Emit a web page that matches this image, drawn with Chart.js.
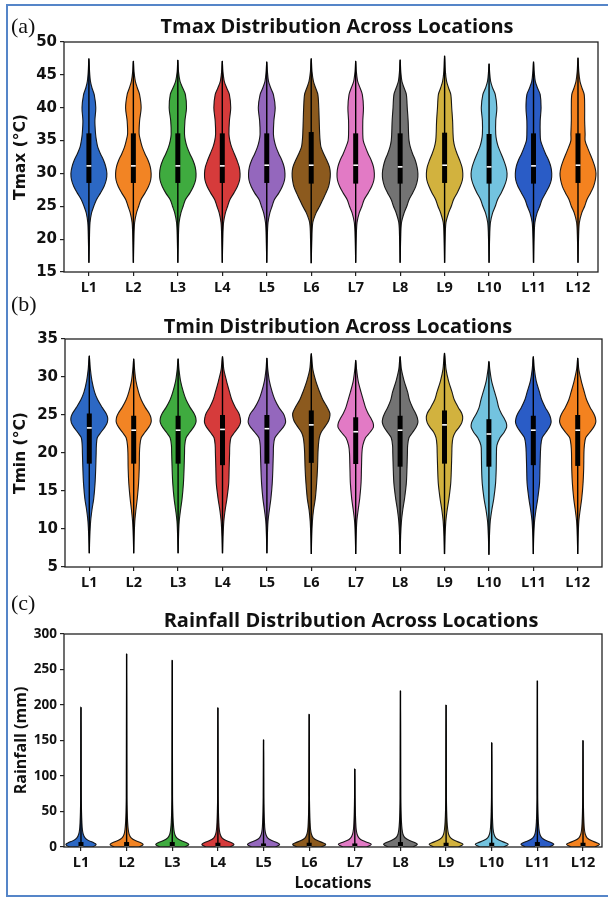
<!DOCTYPE html>
<html>
<head>
<meta charset="utf-8">
<script src="https://cdn.jsdelivr.net/npm/chart.js@4.4.1/dist/chart.umd.min.js"></script>
<style>
  html, body { margin: 0; padding: 0; background: #fff; }
  #page { position: relative; width: 608px; height: 898px; overflow: hidden; background: #fff; }
  #frame { position: absolute; left: 6px; top: 4px; width: 604px; height: 893px; box-sizing: border-box; border: 2px solid #5585c8; }
  canvas { position: absolute; left: 0; }
  .tag { position: absolute; left: 11px; font: 22px/22px "Liberation Serif", serif; color: #111; }
  .title { position: absolute; width: 440px; text-align: center; font: 700 20px/20px "Open Sans", sans-serif; color: #111; white-space: nowrap; }
</style>
</head>
<body>
<div id="page">
  <div id="frame"></div>
  <canvas id="tmax" width="608" height="300" style="top:0"></canvas>
  <canvas id="tmin" width="608" height="300" style="top:300px"></canvas>
  <canvas id="rain" width="608" height="298" style="top:600px"></canvas>
  <div class="tag" style="top:15px">(a)</div>
  <div class="tag" style="top:293px">(b)</div>
  <div class="tag" style="top:592px">(c)</div>
  <div class="title" style="left:117px;top:16px">Tmax Distribution Across Locations</div>
  <div class="title" style="left:118px;top:316px">Tmin Distribution Across Locations</div>
  <div class="title" style="left:131px;top:610px">Rainfall Distribution Across Locations</div>
</div>
<script>
const LOCATIONS = ['L1', 'L2', 'L3', 'L4', 'L5', 'L6', 'L7', 'L8', 'L9', 'L10', 'L11', 'L12'];
const VIOLIN_COLORS = ['#2c68c4', '#f28424', '#3fab3f', '#d63b3b', '#9467bd', '#8c5a1e',
  '#e27ac5', '#737373', '#d2b23e', '#73c3df', '#2a5cc6', '#f4821f'];

// Tmax (°C)
const TMAX_MIN = [16.4, 16.4, 16.4, 16.4, 16.4, 16.35, 16.4, 16.4, 16.4, 16.4, 16.4, 16.4];
const TMAX_Q1 = [28.55, 28.55, 28.55, 28.55, 28.55, 28.45, 28.45, 28.45, 28.55, 28.45, 28.45, 28.55];
const TMAX_MEDIAN = [31.15, 31.15, 31.15, 31.15, 31.25, 31.25, 31.25, 31.0, 31.25, 31.0, 31.15, 31.25];
const TMAX_Q3 = [36.1, 36.1, 36.1, 36.1, 36.1, 36.3, 36.1, 36.1, 36.2, 36.0, 36.1, 36.1];
const TMAX_MAX = [47.5, 47.1, 47.25, 47.1, 47.0, 47.5, 47.1, 47.3, 47.9, 46.7, 47.0, 47.6];
const TMAX_LEVELS = [20, 22.5, 24, 25, 26, 27, 28, 29, 30, 31, 32, 33, 34, 35, 36, 38, 40, 42, 43, 44, 45.5];
// half-width of each violin at TMAX_LEVELS (1 = distance between locations)
const TMAX_WIDTH = [
  [.012, .025, .06, .11, .17, .26, .34, .39, .405, .38, .33, .26, .2, .17, .15, .135, .155, .12, .07, .035, .015],
  [.012, .028, .07, .12, .17, .26, .34, .39, .40, .38, .33, .26, .2, .16, .13, .14, .175, .14, .09, .045, .015],
  [.012, .028, .07, .12, .17, .27, .35, .40, .41, .39, .34, .27, .21, .17, .15, .16, .195, .17, .11, .05, .015],
  [.012, .028, .07, .12, .17, .26, .34, .39, .40, .38, .33, .27, .21, .17, .15, .16, .19, .16, .10, .045, .015],
  [.012, .028, .07, .12, .17, .27, .35, .40, .41, .39, .34, .27, .21, .17, .15, .16, .19, .15, .09, .04, .015],
  [.015, .035, .11, .19, .26, .33, .39, .42, .43, .41, .35, .28, .22, .2, .19, .18, .17, .15, .1, .05, .018],
  [.012, .03, .08, .14, .19, .28, .36, .41, .42, .40, .35, .28, .22, .17, .16, .16, .175, .15, .1, .045, .015],
  [.012, .03, .09, .15, .2, .28, .35, .39, .40, .38, .34, .28, .23, .2, .19, .18, .16, .14, .09, .04, .015],
  [.012, .03, .09, .15, .2, .28, .35, .40, .41, .39, .34, .28, .23, .2, .19, .18, .16, .14, .09, .045, .018],
  [.012, .03, .08, .14, .19, .27, .34, .39, .405, .38, .33, .27, .21, .17, .15, .15, .175, .14, .08, .035, .012],
  [.012, .03, .08, .14, .19, .27, .35, .40, .41, .39, .34, .27, .21, .16, .15, .15, .17, .15, .09, .04, .015],
  [.012, .03, .085, .15, .2, .28, .35, .39, .405, .38, .33, .27, .21, .16, .16, .15, .15, .14, .09, .045, .018]
];

// Tmin (°C)
const TMIN_MIN = [6.8, 6.8, 6.8, 6.8, 6.8, 6.7, 6.7, 6.7, 6.7, 6.6, 6.7, 6.7];
const TMIN_Q1 = [18.6, 18.6, 18.6, 18.4, 18.6, 18.7, 18.55, 18.2, 18.6, 18.2, 18.4, 18.3];
const TMIN_MEDIAN = [23.3, 23.0, 23.0, 23.1, 23.2, 23.7, 22.8, 23.0, 23.7, 22.5, 23.0, 23.0];
const TMIN_Q3 = [25.2, 24.9, 24.9, 25.0, 25.0, 25.6, 24.7, 24.9, 25.6, 24.45, 24.9, 25.0];
const TMIN_MAX = [32.8, 32.4, 32.4, 32.7, 32.5, 33.1, 32.2, 32.7, 33.15, 32.05, 32.7, 32.5];
const TMIN_LEVELS = [9, 11, 12.5, 14, 16, 18, 20, 21, 22, 22.7, 23.4, 24, 24.6, 25.2, 26, 27, 28, 29.5, 31];
const TMIN_WIDTH = [
  [.012, .03, .06, .1, .13, .145, .155, .16, .18, .26, .35, .405, .415, .38, .29, .19, .12, .06, .025],
  [.01, .025, .05, .08, .11, .125, .13, .14, .17, .25, .34, .39, .39, .35, .26, .17, .11, .05, .02],
  [.01, .025, .055, .09, .12, .135, .145, .15, .18, .26, .35, .40, .40, .36, .27, .18, .12, .055, .02],
  [.012, .03, .06, .1, .14, .15, .16, .165, .19, .27, .36, .405, .40, .37, .29, .21, .16, .09, .03],
  [.01, .025, .055, .09, .12, .135, .145, .15, .18, .27, .37, .42, .41, .37, .27, .18, .12, .055, .02],
  [.01, .025, .05, .09, .12, .14, .15, .16, .18, .22, .3, .37, .41, .42, .36, .26, .19, .1, .035],
  [.01, .025, .055, .09, .12, .13, .14, .16, .22, .32, .40, .39, .34, .28, .22, .17, .12, .055, .02],
  [.012, .03, .06, .1, .14, .155, .165, .17, .2, .28, .36, .40, .39, .35, .28, .21, .17, .09, .03],
  [.012, .03, .06, .1, .14, .155, .165, .17, .19, .24, .33, .39, .41, .39, .31, .22, .17, .09, .035],
  [.012, .03, .065, .11, .15, .165, .17, .18, .25, .34, .40, .39, .34, .28, .22, .18, .13, .06, .02],
  [.01, .028, .06, .1, .14, .15, .16, .17, .2, .28, .36, .40, .39, .35, .27, .19, .14, .065, .025],
  [.01, .025, .055, .09, .12, .135, .14, .15, .18, .27, .36, .405, .40, .36, .28, .2, .15, .08, .025]
];

// Rainfall (mm)
const RAIN_MIN = [0, 0, 0, 0, 0, 0, 0, 0, 0, 0, 0, 0];
const RAIN_Q1 = [0, 0, 0, 0, 0, 0, 0, 0, 0, 0, 0, 0];
const RAIN_MEDIAN = [0, 0, 0, 0, 0, 0, 0, 0, 0, 0, 0, 0];
const RAIN_Q3 = [7, 7, 7, 6, 5, 6, 5, 7, 6, 6, 7, 6];
const RAIN_MAX = [197, 272, 263, 196, 151, 187, 110, 220, 200, 147, 234, 150];
const RAIN_LEVELS = [0.3, 2, 4, 6, 9, 13, 18, 25, 35, 50, 70];
const RAIN_WIDTH = [
  [.25, .31, .33, .28, .17, .09, .05, .03, .02, .012, .006],
  [.27, .34, .36, .31, .19, .1, .055, .035, .022, .013, .007],
  [.27, .34, .36, .31, .19, .1, .055, .035, .022, .013, .007],
  [.26, .33, .35, .3, .18, .09, .05, .03, .02, .012, .006],
  [.26, .33, .35, .3, .18, .09, .05, .03, .02, .012, .006],
  [.26, .34, .36, .3, .18, .09, .05, .03, .02, .012, .006],
  [.26, .33, .36, .3, .17, .09, .05, .03, .02, .012, .006],
  [.27, .34, .37, .32, .2, .1, .055, .035, .022, .013, .007],
  [.27, .34, .37, .31, .19, .1, .055, .035, .022, .013, .007],
  [.26, .33, .36, .3, .18, .09, .05, .03, .02, .012, .006],
  [.26, .33, .36, .31, .19, .1, .055, .035, .022, .013, .007],
  [.26, .33, .36, .3, .18, .09, .05, .03, .02, .012, .006]
];

const TEXT = '#111';

const framePlugin = {
  id: 'frame',
  afterDatasetsDraw(chart) {
    const {ctx, chartArea: a} = chart;
    ctx.save();
    ctx.strokeStyle = '#222';
    ctx.lineWidth = 1.3;
    ctx.strokeRect(a.left, a.top, a.right - a.left, a.bottom - a.top);
    ctx.restore();
  }
};

function violinDatasets(p) {
  const datasets = [];
  LOCATIONS.forEach((loc, i) => {
    const pos = i + 1;
    const prof = [{y: p.min[i], w: 0}];
    p.levels.forEach((lv, k) => {
      if (lv > p.min[i] && lv < p.max[i]) prof.push({y: lv, w: p.widths[i][k]});
    });
    prof.push({y: p.max[i], w: 0});
    const right = prof.map((q) => ({x: pos + q.w, y: q.y}));
    const left = prof.slice().reverse().map((q) => ({x: pos - q.w, y: q.y}));

    datasets.push({
      data: right.concat(left.slice(1)),
      backgroundColor: VIOLIN_COLORS[i],
      borderColor: 'rgba(15,15,15,0.95)',
      borderWidth: 1.1,
      fill: 'shape',
      tension: 0.3,
      pointRadius: 0,
      order: 3
    });
    datasets.push({
      data: [{x: pos, y: p.min[i]}, {x: pos, y: p.max[i]}],
      borderColor: '#000',
      borderWidth: 1.4,
      pointRadius: 0,
      fill: false,
      order: 2
    });
    datasets.push({
      data: [{x: pos, y: p.q1[i]}, {x: pos, y: p.q3[i]}],
      borderColor: '#000',
      borderWidth: 5,
      borderCapStyle: 'butt',
      pointRadius: 0,
      fill: false,
      order: 1
    });
  });
  datasets.push({
    data: p.median.map((m, i) => ({x: i + 1, y: m})),
    showLine: false,
    pointStyle: 'line',
    pointRadius: 2.4,
    pointBorderColor: '#fff',
    pointBorderWidth: 1.6,
    order: 0
  });
  return datasets;
}

function makePanel(id, p) {
  return new Chart(document.getElementById(id), {
    type: 'line',
    data: {datasets: violinDatasets(p)},
    options: {
      responsive: false,
      animation: false,
      events: [],
      layout: {padding: {top: p.padTop, right: p.padRight, left: 0, bottom: 0}},
      plugins: {legend: {display: false}, tooltip: {enabled: false}},
      scales: {
        x: {
          type: 'linear',
          min: p.xMin,
          max: p.xMax,
          afterBuildTicks: (s) => { s.ticks = LOCATIONS.map((_, i) => ({value: i + 1})); },
          afterFit: (s) => { s.height = p.xHeight; },
          ticks: {
            autoSkip: false, maxRotation: 0, padding: 3, color: TEXT,
            font: {family: 'Open Sans', weight: 'bold', size: 14.5},
            callback: (v) => LOCATIONS[v - 1]
          },
          grid: {drawOnChartArea: false, tickLength: 4, color: '#222', lineWidth: 1.2},
          border: {display: false},
          title: {
            display: !!p.xTitle, text: p.xTitle || '', color: TEXT,
            font: {family: 'Open Sans', weight: 'bold', size: 16},
            padding: {top: 0, bottom: 5}
          }
        },
        y: {
          min: p.yMin,
          max: p.yMax,
          afterFit: (s) => { s.width = p.yWidth; },
          ticks: {stepSize: p.yStep, padding: 3, color: TEXT, font: p.yTickFont},
          grid: {drawOnChartArea: false, tickLength: 4, color: '#222', lineWidth: 1.2},
          border: {display: false},
          title: {display: true, text: p.yTitle, color: TEXT, font: p.yTitleFont, padding: {top: 12, bottom: 0}}
        }
      }
    },
    plugins: [framePlugin]
  });
}

makePanel('tmax', {
  min: TMAX_MIN, q1: TMAX_Q1, median: TMAX_MEDIAN, q3: TMAX_Q3, max: TMAX_MAX,
  levels: TMAX_LEVELS, widths: TMAX_WIDTH,
  padTop: 42, padRight: 10, yWidth: 64, xHeight: 28, xMin: 0.44, xMax: 12.45,
  yMin: 15, yMax: 50, yStep: 5, yTitle: 'Tmax (°C)',
  yTickFont: {family: 'DejaVu Sans', weight: 'bold', size: 15},
  yTitleFont: {family: 'DejaVu Sans', weight: 'bold', size: 15.5}
});

makePanel('tmin', {
  min: TMIN_MIN, q1: TMIN_Q1, median: TMIN_MEDIAN, q3: TMIN_Q3, max: TMIN_MAX,
  levels: TMIN_LEVELS, widths: TMIN_WIDTH,
  padTop: 39, padRight: 6, yWidth: 65, xHeight: 33, xMin: 0.453, xMax: 12.547,
  yMin: 5, yMax: 35, yStep: 5, yTitle: 'Tmin (°C)',
  yTickFont: {family: 'DejaVu Sans', weight: 'bold', size: 15},
  yTitleFont: {family: 'DejaVu Sans', weight: 'bold', size: 15.5}
});

makePanel('rain', {
  min: RAIN_MIN, q1: RAIN_Q1, median: RAIN_MEDIAN, q3: RAIN_Q3, max: RAIN_MAX,
  levels: RAIN_LEVELS, widths: RAIN_WIDTH,
  padTop: 34, padRight: 6, yWidth: 64, xHeight: 51, xMin: 0.628, xMax: 12.416,
  yMin: 0, yMax: 300, yStep: 50, yTitle: 'Rainfall (mm)', xTitle: 'Locations',
  yTickFont: {family: 'Open Sans', weight: 'bold', size: 13.5},
  yTitleFont: {family: 'Open Sans', weight: 'bold', size: 16}
});
</script>
</body>
</html>
